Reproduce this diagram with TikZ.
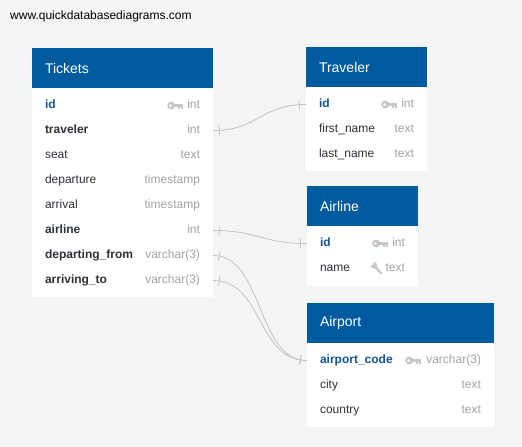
\documentclass[tikz,border=0pt]{standalone}
\usepackage{fontspec}
\setmainfont{Liberation Sans}
\usetikzlibrary{positioning, decorations.markings}
\definecolor{pagebg}{RGB}{244,245,245}
\definecolor{headblue}{RGB}{0,90,158}
\definecolor{pkblue}{RGB}{18,84,148}
\definecolor{fieldtext}{RGB}{45,50,56}
\definecolor{typegray}{RGB}{160,163,166}
\definecolor{icongray}{RGB}{196,200,204}
\definecolor{linkgray}{RGB}{196,196,196}
\newcommand\coltype[1]{\hskip 0pt plus 1filll{\mdseries\color{typegray}#1}}

\begin{document}
\begin{tikzpicture}[
    x=1pt, y=-1pt,
    on grid,
    head/.style={fill=headblue, text=white, text width=#1, inner xsep=13pt, minimum height=40pt, align=left, font=\fontsize{14pt}{16pt}\selectfont},
    field/.style={text width=#1, inner xsep=13pt, inner ysep=0pt, text height=9pt, text depth=2.5pt, align=left, text=fieldtext, font=\fontsize{12pt}{14pt}\selectfont},
    fk/.style={font=\fontsize{12pt}{14pt}\selectfont\bfseries},
    pk/.style={fk, text=pkblue},
    rel/.style={draw=linkgray, line width=0.8pt, postaction={decorate}, decoration={markings,
        mark=at position 6pt with {\draw[linkgray, line width=0.8pt] (0pt,-5pt) -- (0pt,5pt);},
        mark=at position -6.5pt with {\draw[linkgray, line width=0.8pt] (0pt,-5pt) -- (0pt,5pt);}}},
    keyicon/.pic={
        \fill[icongray] (4,0) circle (4pt);
        \fill[white] (3.2,0) circle (1.4pt);
        \fill[icongray] (6.5,-1.7) rectangle (15.5,1.7);
        \fill[icongray] (11,1.7) rectangle (13,3.8);
        \fill[icongray] (13.8,1.7) rectangle (15.5,3.4);
    },
    toolicon/.pic={
        \draw[icongray, line width=2.2pt, line cap=round] (4,-2) -- (10,5);
        \fill[icongray] (3,-3) circle (3.2pt);
        \fill[white] (1.4,-4.6) circle (1.2pt);
    }
]

   % page
   \fill[pagebg] (0,0) rectangle (522,447);
   \node[anchor=west, inner sep=0pt, font=\fontsize{12pt}{14pt}\selectfont] (url) at (10,16) {www.quickdatabasediagrams.com};

   % Tickets
   \node[head=155pt] (tk) at (122.5,68) {Tickets};
   \fill[white] (tk.south west) rectangle ++(181,209);
   \node[field=155pt, pk] (tk-id) [below=37.5pt of tk] {id\coltype{int}};
   \node[field=155pt, fk] (tk-trav) [below=25pt of tk-id] {traveler\coltype{int}};
   \node[field=155pt] (tk-seat) [below=25pt of tk-trav] {seat\coltype{text}};
   \node[field=155pt] (tk-depart) [below=25pt of tk-seat] {departure\coltype{timestamp}};
   \node[field=155pt] (tk-arrive) [below=25pt of tk-depart] {arrival\coltype{timestamp}};
   \node[field=155pt, fk] (tk-air) [below=25pt of tk-arrive] {airline\coltype{int}};
   \node[field=155pt, fk] (tk-from) [below=25pt of tk-air] {departing\_from\coltype{varchar(3)}};
   \node[field=155pt, fk] (tk-to) [below=25pt of tk-from] {arriving\_to\coltype{varchar(3)}};
   \pic at ([xshift=-46pt]tk-id.east) {keyicon};

   % Traveler
   \node[head=95pt] (tr) at (366.5,67) {Traveler};
   \fill[white] (tr.south west) rectangle ++(121,84);
   \node[field=95pt, pk] (tr-id) [below=37.5pt of tr] {id\coltype{int}};
   \node[field=95pt] (tr-first) [below=25pt of tr-id] {first\_name\coltype{text}};
   \node[field=95pt] (tr-last) [below=25pt of tr-first] {last\_name\coltype{text}};
   \pic at ([xshift=-46pt]tr-id.east) {keyicon};

   % Airline
   \node[head=85pt] (al) at (362.5,206) {Airline};
   \fill[white] (al.south west) rectangle ++(111,60);
   \node[field=85pt, pk] (al-id) [below=37.5pt of al] {id\coltype{int}};
   \node[field=85pt] (al-name) [below=25pt of al-id] {name\coltype{text}};
   \pic at ([xshift=-46pt]al-id.east) {keyicon};
   \pic at ([xshift=-47pt]al-name.east) {toolicon};

   % Airport
   \node[head=161pt] (ap) at (400.5,323) {Airport};
   \fill[white] (ap.south west) rectangle ++(187,84);
   \node[field=161pt, pk] (ap-code) [below=37.5pt of ap] {airport\_code\coltype{varchar(3)}};
   \node[field=161pt] (ap-city) [below=25pt of ap-code] {city\coltype{text}};
   \node[field=161pt] (ap-country) [below=25pt of ap-city] {country\coltype{text}};
   \pic at ([xshift=-89pt]ap-code.east) {keyicon};

   % References
   \draw[rel] (tk-trav.east) .. controls +(45,0) and +(-45,0) .. (tr-id.west);
   \draw[rel] (tk-air.east) .. controls +(45,0) and +(-45,0) .. (al-id.west);
   \draw[rel] (tk-from.east) .. controls +(50,0) and +(-50,0) .. (ap-code.west);
   \draw[rel] (tk-to.east) .. controls +(50,0) and +(-50,0) .. (ap-code.west);
\end{tikzpicture}
\end{document}
